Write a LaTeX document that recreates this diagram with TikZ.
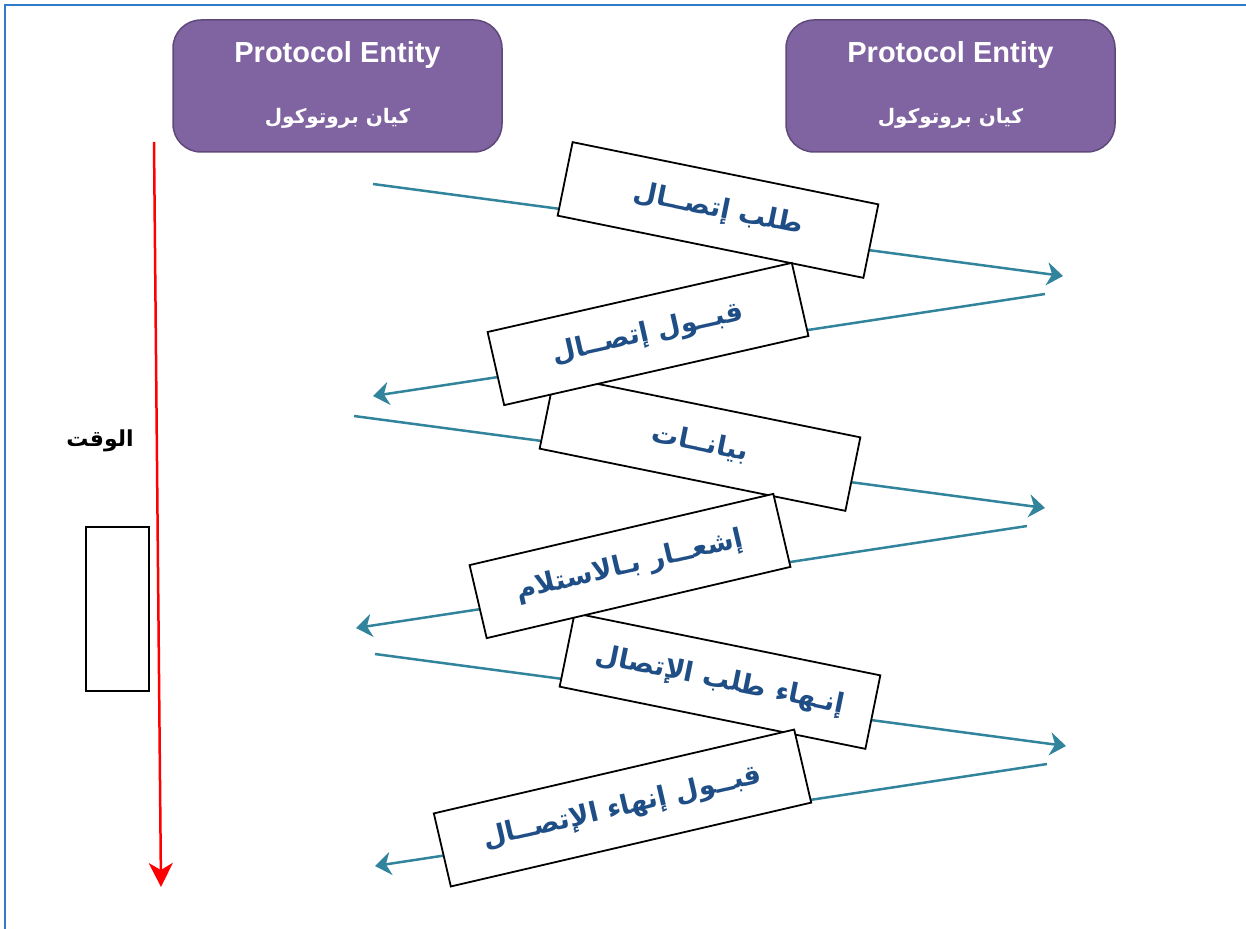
\documentclass[tikz,border=0pt]{standalone}
\usepackage{fontspec}
\setmainfont{Liberation Sans}
\newfontfamily\arabicfont[Script=Arabic]{DejaVu Sans}
\TeXXeTstate=1
\usetikzlibrary{arrows.meta}
\definecolor{frameblue}{HTML}{2E7CC8}
\definecolor{entfill}{HTML}{8064A2}
\definecolor{entdraw}{HTML}{5F497A}
\definecolor{msgteal}{HTML}{31849B}
\definecolor{msgtext}{HTML}{1F4E86}
\tikzset{
  entity/.style={draw=entdraw, line width=1.5pt, fill=entfill, rounded corners=28pt,
    minimum width=329pt, minimum height=132pt, inner sep=0pt},
  enttitle/.style={text=white, font=\bfseries\fontsize{29}{34}\selectfont, inner sep=0pt},
  entsub/.style={text=white, font=\arabicfont\bfseries\fontsize{20}{24}\selectfont, inner sep=0pt},
  msgbox/.style={draw=black, line width=1.8pt, fill=white, minimum width=312pt,
    minimum height=75pt, inner sep=0pt, text=msgtext,
    font=\arabicfont\bfseries\fontsize{27}{32}\selectfont},
  msgline/.style={draw=msgteal, line width=2.5pt,
    -{Stealth[length=16pt,width=23pt,inset=5pt]}},
  timeline/.style={draw=red, line width=2.5pt,
    -{Stealth[length=24pt,width=24pt,inset=7pt]}},
}
\begin{document}
\begin{tikzpicture}[x=1pt,y=-1pt]
\useasboundingbox (0,0) rectangle (1246,928);
% frame
\draw[frameblue, line width=2pt] (5,940) -- (5,5) -- (1250,5);
% entities
\node[entity] (e1) at (337.5,86) {};
\node[enttitle] (e1t) at (337.5,55) {Protocol Entity};
\node[entsub] (e1s) at (337.5,118) {\arabicfont\beginR كيان بروتوكول\endR};
\node[entity] (e2) at (950.5,86) {};
\node[enttitle] (e2t) at (950.5,55) {Protocol Entity};
\node[entsub] (e2s) at (950.5,118) {\arabicfont\beginR كيان بروتوكول\endR};
% time axis
\coordinate (t0) at (154,142);
\coordinate (t1) at (161,887);
\draw[timeline] (t0) -- (t1);
\node[font=\arabicfont\bfseries\fontsize{22}{26}\selectfont, inner sep=0pt] (tl) at (100,441) {\beginR الوقت\endR};
\node[draw=black, line width=2pt, minimum width=63pt, minimum height=164pt, inner sep=0pt] (tb) at (117.5,609) {};
% message lines
\coordinate (a1s) at (373,184);  \coordinate (a1e) at (1063,276);
\coordinate (a2s) at (1045,294); \coordinate (a2e) at (373,396);
\coordinate (a3s) at (354,416);  \coordinate (a3e) at (1045,508);
\coordinate (a4s) at (1027,526); \coordinate (a4e) at (356,628);
\coordinate (a5s) at (375,654);  \coordinate (a5e) at (1066,746);
\coordinate (a6s) at (1047,764); \coordinate (a6e) at (375,866);
\draw[msgline] (a1s) -- (a1e);
\draw[msgline] (a2s) -- (a2e);
\draw[msgline] (a3s) -- (a3e);
\draw[msgline] (a4s) -- (a4e);
\draw[msgline] (a5s) -- (a5e);
\draw[msgline] (a6s) -- (a6e);
% message boxes
\node[msgbox, rotate=-11.5] (m5) at (720,681) {\beginR إنـهاء طلب الإتصال\endR};
\node[msgbox, rotate=13.1, minimum width=370pt] (m6) at (622.5,808) {\beginR قبــول إنهاء الإتصــال\endR};
\node[msgbox, rotate=-11.5] (m3) at (700,443) {\beginR بيانــات\endR};
\node[msgbox, rotate=13.2] (m4) at (630,566) {\beginR إشعــار بـالاستلام\endR};
\node[msgbox, rotate=-11.5] (m1) at (718,210) {\beginR طلب إتصــال\endR};
\node[msgbox, rotate=12.8] (m2) at (648,334) {\beginR قبــول إتصــال\endR};
\end{tikzpicture}
\end{document}
